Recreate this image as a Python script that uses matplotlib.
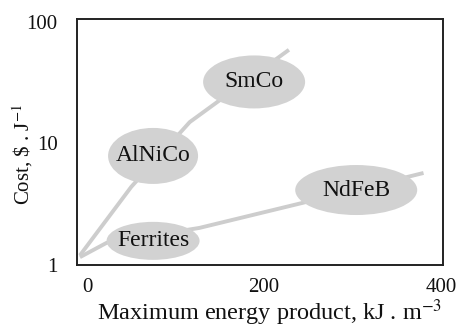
import matplotlib
matplotlib.use("Agg")
import matplotlib.pyplot as plt
from matplotlib.patches import Ellipse
from matplotlib.transforms import ScaledTranslation
from matplotlib.ticker import FixedLocator, FixedFormatter, NullLocator

plt.rcParams['font.family'] = ['Liberation Serif', 'DejaVu Serif']
plt.rcParams['mathtext.fontset'] = 'stix'

# Trend lines: cost against maximum energy product
upper_energy = [-8, 50, 116, 228]
upper_cost = [1.2, 4.4, 15, 59]
lower_energy = [-8, 22, 127, 243, 380]
lower_cost = [1.16, 1.52, 2.02, 3.24, 5.72]

# Magnet families (label positions on the chart)
materials = ['AlNiCo', 'SmCo', 'Ferrites', 'NdFeB']
mat_energy = [74.6, 188.7, 74.6, 304]
mat_cost = [7.9, 32.1, 1.58, 4.14]

x_ticks = [0, 200, 400]
x_tick_labels = ['0', '200', '400']
y_ticks = [1, 10, 100]
y_tick_labels = ['1', '10', '100']

# ellipse sizes in pixels (width, height)
ellipse_px = [(90, 56), (102, 53), (93, 38), (122, 50)]

DPI = 100
fig = plt.figure(figsize=(4.63, 3.35), dpi=DPI)
ax = fig.add_axes([77 / 463, 1 - 265 / 335, 366 / 463, 246 / 335])

gray_line = '#cdcdcd'
gray_fill = '#d2d2d2'

ax.plot(upper_energy, upper_cost, color=gray_line, lw=2.8,
        solid_capstyle='butt', zorder=1)
ax.plot(lower_energy, lower_cost, color=gray_line, lw=2.8,
        solid_capstyle='butt', zorder=1)

ax.set_yscale('log')
ax.set_xlim(-11.3, 402)
ax.set_ylim(1, 105.8)

for name, xe, yc, (w, h) in zip(materials, mat_energy, mat_cost, ellipse_px):
    tr = fig.dpi_scale_trans + ScaledTranslation(xe, yc, ax.transData)
    ax.add_patch(Ellipse((0, 0), w / DPI, h / DPI, transform=tr,
                         facecolor=gray_fill, edgecolor='none', zorder=2))
    ax.text(xe, yc, name, ha='center', va='center', fontsize=17,
            color='#111111', zorder=3)

ax.xaxis.set_major_locator(FixedLocator(x_ticks))
ax.xaxis.set_major_formatter(FixedFormatter(x_tick_labels))
ax.yaxis.set_major_locator(FixedLocator(y_ticks))
ax.yaxis.set_major_formatter(FixedFormatter(y_tick_labels))
ax.xaxis.set_minor_locator(NullLocator())
ax.yaxis.set_minor_locator(NullLocator())
ax.tick_params(length=0, labelsize=15, colors='#111111')
ax.tick_params(axis='x', pad=9)
ax.tick_params(axis='y', pad=14)

for sp in ax.spines.values():
    sp.set_linewidth(1.4)
    sp.set_color('#222222')

ax.set_xlabel('Maximum energy product, kJ . m$^{-3}$', fontsize=17.5,
              color='#111111')
ax.xaxis.set_label_coords(0.527, -0.13)
ax.set_ylabel(r'Cost, \$ . J$^{-1}$', fontsize=15, color='#111111')
ax.yaxis.set_label_coords(-0.115, 0.45)

fig.savefig('out.png', dpi=DPI)
